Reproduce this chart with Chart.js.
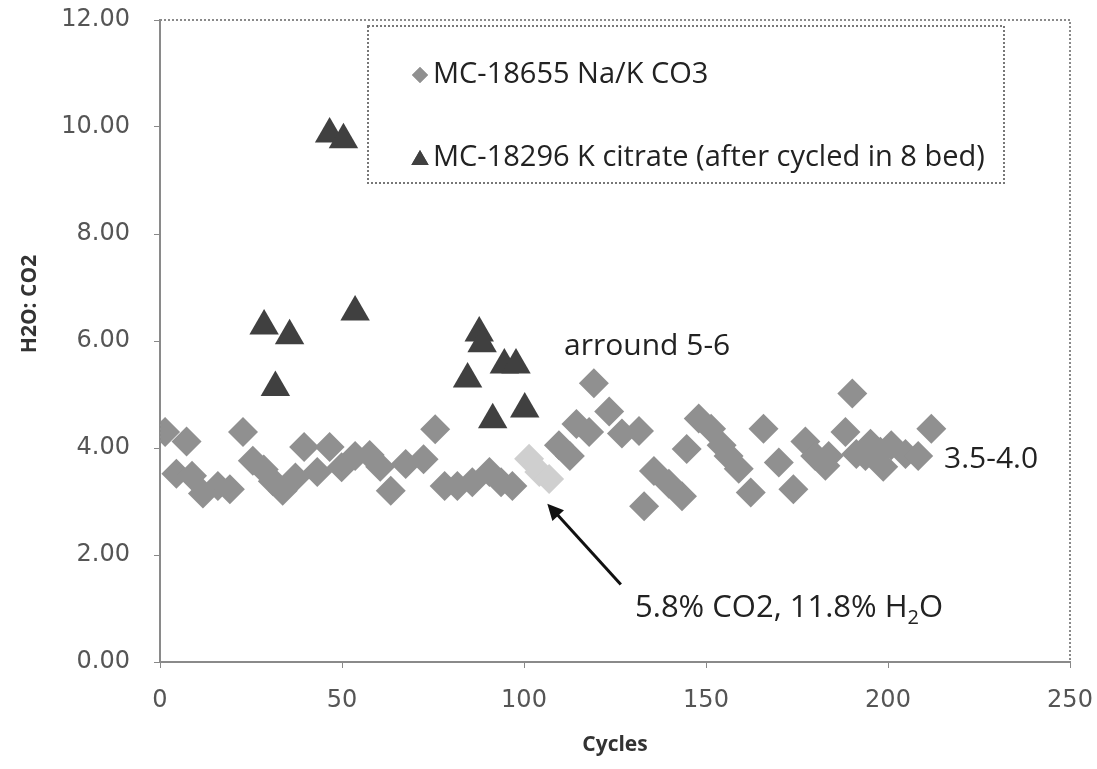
<!DOCTYPE html>
<html>
<head>
<meta charset="utf-8">
<script src="https://cdn.jsdelivr.net/npm/chart.js@4.4.1/dist/chart.umd.min.js"></script>
<style>
  html, body { margin: 0; padding: 0; background: #fff; }
  #wrap { width: 1097px; height: 769px; position: relative; }
</style>
</head>
<body>
<div id="wrap"><canvas id="chart"></canvas></div>
<script>
// MC-18655 Na/K CO3 (diamonds)
const nakCycles = [1.4, 4.5, 7.3, 8.8, 11.8, 15.9, 19.2, 22.8, 25.5, 28.5, 31.0, 33.7, 37.2, 39.6, 43.2, 46.6, 49.9, 53.6, 57.6, 60.5,
  63.4, 67.5, 72.4, 75.6, 78.2, 81.7, 85.8, 90.5, 93.7, 96.8, 109.6, 112.6, 114.4, 117.9, 119.2, 123.4, 126.9, 131.6, 133.0, 135.7,
  139.8, 143.4, 144.7, 148.0, 151.4, 154.3, 156.2, 159.0, 162.3, 165.8, 170.0, 174.0, 177.3, 180.0, 182.8, 183.7, 188.3, 190.2, 191.3,
  193.8, 195.2, 197.9, 198.7, 200.9, 204.8, 208.3, 211.9];
const nakRatio = [4.30, 3.52, 4.12, 3.48, 3.15, 3.29, 3.23, 4.30, 3.76, 3.60, 3.38, 3.20, 3.45, 4.02, 3.55, 4.02, 3.64, 3.85, 3.87, 3.65,
  3.20, 3.70, 3.79, 4.35, 3.29, 3.29, 3.36, 3.55, 3.36, 3.29, 4.05, 3.85, 4.45, 4.30, 5.21, 4.68, 4.27, 4.32, 2.91, 3.57,
  3.33, 3.10, 3.98, 4.55, 4.36, 4.05, 3.85, 3.61, 3.17, 4.36, 3.73, 3.23, 4.12, 3.85, 3.67, 3.85, 4.30, 5.02, 3.89,
  3.85, 4.08, 3.93, 3.65, 4.05, 3.89, 3.85, 4.36];

// points run at 5.8% CO2, 11.8% H2O (lighter diamonds)
const feedCycles = [101.4, 104.2, 106.9];
const feedRatio = [3.80, 3.55, 3.42];

// MC-18296 K citrate (triangles)
const citCycles = [28.6, 31.7, 35.6, 46.6, 50.4, 53.6, 84.5, 87.7, 88.5, 91.4, 94.6, 97.8, 100.2];
const citRatio = [6.28, 5.13, 6.10, 9.87, 9.76, 6.54, 5.29, 6.15, 5.95, 4.53, 5.55, 5.55, 4.73];

const xTicks = [0, 50, 100, 150, 200, 250];
const yTicks = [0, 2, 4, 6, 8, 10, 12];

const pts = (xs, ys) => xs.map((x, i) => ({ x, y: ys[i] }));

const textFont = '"Open Sans", sans-serif';
const tickFont = { family: '"DejaVu Sans", sans-serif', size: 24 };

// dotted box round the plot area, legend box, notes, arrow, y title
const decor = {
  id: 'decor',
  afterDraw(chart) {
    const { ctx, chartArea: a, scales: { x, y } } = chart;
    ctx.save();
    ctx.setLineDash([2, 2]);
    ctx.strokeStyle = '#8a8a8a';
    ctx.lineWidth = 2;
    ctx.strokeRect(a.left, a.top, a.right - a.left, a.bottom - a.top);

    // legend
    ctx.strokeStyle = '#777';
    ctx.strokeRect(368, 26, 636, 157);
    ctx.setLineDash([]);
    const items = [chart.data.datasets[0], chart.data.datasets[2]];
    const rows = [75, 158];
    ctx.font = `29px ${textFont}`;
    ctx.textBaseline = 'middle';
    items.forEach((ds, i) => {
      ctx.fillStyle = ds.backgroundColor;
      Chart.helpers.drawPoint(ctx, { pointStyle: ds.pointStyle, radius: i ? 10 : 8, borderWidth: 0 }, 420, rows[i] + (i ? 2 : 0));
      ctx.fill();
      ctx.fillStyle = '#222';
      ctx.fillText(ds.label, 433, rows[i]);
    });

    // y axis title
    ctx.save();
    ctx.translate(30, 304);
    ctx.rotate(-Math.PI / 2);
    ctx.font = `bold 21px ${textFont}`;
    ctx.textAlign = 'center';
    ctx.fillStyle = '#333';
    ctx.fillText('H2O: CO2', 0, 0);
    ctx.restore();

    // notes
    ctx.font = `30px ${textFont}`;
    ctx.fillStyle = '#222';
    ctx.textBaseline = 'alphabetic';
    ctx.fillText('arround 5-6', x.getPixelForValue(111.0), y.getPixelForValue(5.74));
    ctx.fillText('3.5-4.0', x.getPixelForValue(215.4), y.getPixelForValue(3.63));
    ctx.font = `31px ${textFont}`;
    let tx = x.getPixelForValue(130.5);
    const ty = y.getPixelForValue(0.84);
    const main = '5.8% CO2, 11.8% H';
    ctx.fillText(main, tx, ty);
    tx += ctx.measureText(main).width;
    ctx.font = `20px ${textFont}`;
    ctx.fillText('2', tx, ty + 7);
    tx += ctx.measureText('2').width;
    ctx.font = `31px ${textFont}`;
    ctx.fillText('O', tx, ty);

    // arrow
    const x0 = x.getPixelForValue(126.6), y0 = y.getPixelForValue(1.45);
    const x1 = x.getPixelForValue(106.4), y1 = y.getPixelForValue(2.96);
    const ang = Math.atan2(y1 - y0, x1 - x0);
    ctx.strokeStyle = '#111';
    ctx.lineWidth = 3;
    ctx.beginPath();
    ctx.moveTo(x0, y0);
    ctx.lineTo(x1 - Math.cos(ang) * 8, y1 - Math.sin(ang) * 8);
    ctx.stroke();
    ctx.fillStyle = '#111';
    ctx.beginPath();
    ctx.moveTo(x1, y1);
    ctx.lineTo(x1 - Math.cos(ang - 0.45) * 18, y1 - Math.sin(ang - 0.45) * 18);
    ctx.lineTo(x1 - Math.cos(ang + 0.45) * 18, y1 - Math.sin(ang + 0.45) * 18);
    ctx.closePath();
    ctx.fill();
    ctx.restore();
  }
};

new Chart(document.getElementById('chart'), {
  type: 'scatter',
  data: {
    datasets: [{
      label: 'MC-18655 Na/K CO3',
      data: pts(nakCycles, nakRatio),
      pointStyle: 'rectRot',
      radius: 15,
      backgroundColor: '#909090',
      borderWidth: 0
    }, {
      label: '5.8% CO2, 11.8% H2O',
      data: pts(feedCycles, feedRatio),
      pointStyle: 'rectRot',
      radius: 15,
      backgroundColor: '#cfcfcf',
      borderWidth: 0
    }, {
      label: 'MC-18296 K citrate (after cycled in 8 bed)',
      data: pts(citCycles, citRatio),
      pointStyle: 'triangle',
      radius: 17,
      backgroundColor: '#404040',
      borderWidth: 0
    }]
  },
  options: {
    responsive: true,
    maintainAspectRatio: false,
    animation: false,
    layout: { padding: { top: 20, right: 27, left: 0, bottom: 0 } },
    plugins: { legend: { display: false }, tooltip: { enabled: false } },
    scales: {
      x: {
        type: 'linear',
        min: 0,
        max: 250,
        afterBuildTicks(scale) { scale.ticks = xTicks.map(v => ({ value: v })); },
        afterFit(scale) { scale.height = 107; scale.paddingLeft = 0; scale.paddingRight = 0; },
        grid: { drawOnChartArea: false, tickLength: 6, color: '#888' },
        border: { color: '#8a8a8a', width: 2, dash: [2, 2] },
        ticks: { color: '#555', font: tickFont, padding: 18, maxRotation: 0 },
        title: {
          display: true,
          text: 'Cycles',
          color: '#333',
          font: { family: textFont, size: 21, weight: 'bold' },
          padding: { top: 0, bottom: 11 }
        }
      },
      y: {
        min: 0,
        max: 12,
        afterBuildTicks(scale) { scale.ticks = yTicks.map(v => ({ value: v })); },
        afterFit(scale) { scale.width = 160; scale.paddingTop = 0; scale.paddingBottom = 0; },
        grid: { drawOnChartArea: false, tickLength: 6, color: '#888' },
        border: { color: '#8a8a8a', width: 2, dash: [2, 2] },
        ticks: { color: '#555', font: tickFont, padding: 24, callback: v => v.toFixed(2) }
      }
    }
  },
  plugins: [decor]
});
</script>
</body>
</html>
